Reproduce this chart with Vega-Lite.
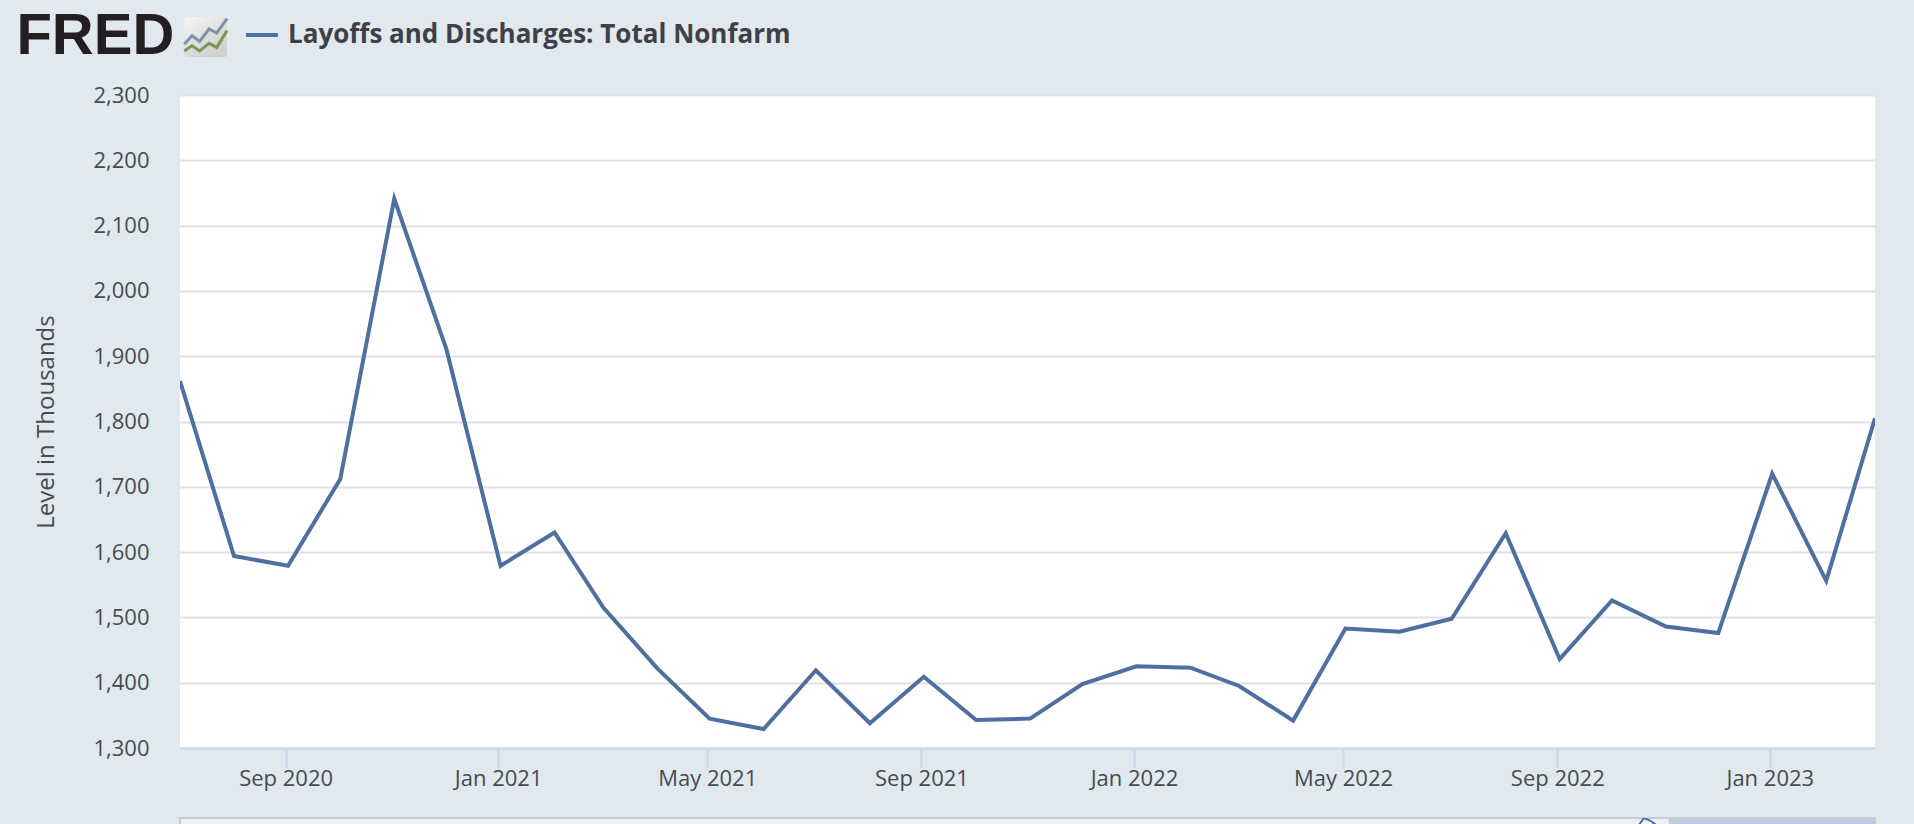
{
"$schema":"https://vega.github.io/schema/vega-lite/v6.json",
"background":"#e1e8ee",
"padding":{"left":16,"top":8,"right":41,"bottom":0},
"spacing":18,
"config":{"view":{"stroke":null},"font":"Open Sans"},
"datasets":{
"series":[
{"date":"2020-07-01","value":1862},{"date":"2020-08-01","value":1594},{"date":"2020-09-01","value":1579},{"date":"2020-10-01","value":1712},{"date":"2020-11-01","value":2141},{"date":"2020-12-01","value":1910},
{"date":"2021-01-01","value":1579},{"date":"2021-02-01","value":1630},{"date":"2021-03-01","value":1515},{"date":"2021-04-01","value":1422},{"date":"2021-05-01","value":1345},{"date":"2021-06-01","value":1329},{"date":"2021-07-01","value":1419},{"date":"2021-08-01","value":1338},{"date":"2021-09-01","value":1409},{"date":"2021-10-01","value":1343},{"date":"2021-11-01","value":1345},{"date":"2021-12-01","value":1398},
{"date":"2022-01-01","value":1425},{"date":"2022-02-01","value":1423},{"date":"2022-03-01","value":1395},{"date":"2022-04-01","value":1342},{"date":"2022-05-01","value":1483},{"date":"2022-06-01","value":1478},{"date":"2022-07-01","value":1498},{"date":"2022-08-01","value":1629},{"date":"2022-09-01","value":1436},{"date":"2022-10-01","value":1526},{"date":"2022-11-01","value":1486},{"date":"2022-12-01","value":1476},
{"date":"2023-01-01","value":1720},{"date":"2023-02-01","value":1556},{"date":"2023-03-01","value":1805}],
"icon":[
{"s":"a","x":0,"y":3.2},{"s":"a","x":0.9,"y":5.3},{"s":"a","x":1.8,"y":3.9},{"s":"a","x":2.9,"y":7},{"s":"a","x":3.8,"y":6},{"s":"a","x":5,"y":9.6},
{"s":"b","x":0,"y":1.5},{"s":"b","x":0.9,"y":2.8},{"s":"b","x":1.8,"y":1.5},{"s":"b","x":2.9,"y":3.4},{"s":"b","x":3.8,"y":2.4},{"s":"b","x":5,"y":6.6}],
"box":[{"x0":0,"x1":5,"y0":0,"y1":10}],
"nav":[{"date":"2020-02-01","value":1.0},{"date":"2020-03-01","value":13.0},{"date":"2020-04-01","value":9.0},{"date":"2020-05-01","value":2.0}],
"window":[{"start":"2020-07-01","end":"2023-03-01"}],
"legend":[{"series":"Layoffs and Discharges: Total Nonfarm","x":0,"y":0}]
},
"vconcat":[
{"width":47,"height":40,
"title":{"text":"FRED","orient":"left","angle":0,"anchor":"middle","align":"left","baseline":"middle","font":"Liberation Sans","fontWeight":"bold","fontSize":58,"color":"#231f20","offset":2},
"layer":[
{"data":{"name":"box"},"mark":{"type":"rect","cornerRadius":3,"color":{"x1":0,"y1":0,"x2":0.6,"y2":1,"gradient":"linear","stops":[{"offset":0,"color":"#f4f5f4"},{"offset":1,"color":"#cfd1cd"}]}},
"encoding":{"x":{"field":"x0","type":"quantitative","axis":null,"scale":{"domain":[-0.5,5]}},"x2":{"field":"x1"},
"y":{"field":"y0","type":"quantitative","axis":null,"scale":{"domain":[0,10]}},"y2":{"field":"y1"}}},
{"data":{"name":"icon"},"mark":{"type":"line","strokeWidth":3},
"encoding":{"x":{"field":"x","type":"quantitative"},
"y":{"field":"y","type":"quantitative"},
"detail":{"field":"s"},
"stroke":{"field":"s","type":"nominal","legend":null,"scale":{"domain":["a","b"],"range":["#7d93ad","#7c9456"]}}}},
{"data":{"name":"legend"},"mark":{"type":"line","strokeWidth":4},
"encoding":{"x":{"field":"x","type":"quantitative"},"y":{"field":"y","type":"quantitative"},
"color":{"field":"series","type":"nominal","scale":{"range":["#4e6f9f"]},
"legend":{"title":null,"orient":"right","offset":11,"symbolType":"stroke","symbolSize":1024,"symbolStrokeWidth":4,"labelFont":"Open Sans","labelFontWeight":700,"labelFontSize":26,"labelColor":"#3f4047","labelLimit":700,"labelOffset":8}}}}
],
"resolve":{"scale":{"color":"independent"}}
},
{"width":1695,"height":653,
"view":{"fill":"#ffffff"},
"data":{"name":"series"},
"mark":{"type":"line","color":"#4e6f9f","strokeWidth":4,"clip":true,"interpolate":"linear"},
"encoding":{
"x":{"field":"date","type":"temporal","scale":{"domain":["2020-07-01T00:00:00","2023-03-01T00:00:00"]},
"axis":{"values":["2020-09-01T00:00:00","2021-01-01T00:00:00","2021-05-01T00:00:00","2021-09-01T00:00:00","2022-01-01T00:00:00","2022-05-01T00:00:00","2022-09-01T00:00:00","2023-01-01T00:00:00"],"format":"%b %Y","title":" ","titleFontSize":4,"titlePadding":4.5,"labelFontSize":22,"labelColor":"#444c52","labelFont":"Open Sans","labelPadding":1.5,"tickOffset":-2.4,"tickColor":"#ccd6eb","tickSize":19,"tickWidth":2,"domainColor":"#ccd6eb","domainWidth":2,"grid":false}},
"y":{"field":"value","type":"quantitative","scale":{"domain":[1300,2300],"nice":false,"zero":false},
"axis":{"values":[1300,1400,1500,1600,1700,1800,1900,2000,2100,2200,2300],"format":",.0f","title":"Level in Thousands","titleFont":"Open Sans","titleFontSize":24,"titleFontWeight":"normal","titleColor":"#444c52","titlePadding":34,"labelFontSize":22,"labelColor":"#444c52","labelFont":"Open Sans","labelPadding":31,"ticks":false,"domain":false,"grid":true,"gridColor":"#dfe1e4","gridWidth":2}}
}},
{"width":1695,"height":9,
"view":{"fill":"#eef1f4","stroke":"#c9ccd0","strokeWidth":2},
"layer":[
{"data":{"name":"window"},"mark":{"type":"rect","color":"#bfcbe0","stroke":"#c9ccd0","strokeWidth":2},
"encoding":{"x":{"field":"start","type":"temporal","title":null,"axis":null,"scale":{"domain":["2001-03-01T00:00:00","2023-03-01T00:00:00"]}},"x2":{"field":"end"}}},
{"data":{"name":"nav"},"mark":{"type":"line","color":"#4e6f9f","strokeWidth":2,"clip":true},
"encoding":{"x":{"field":"date","type":"temporal"},"y":{"field":"value","type":"quantitative","axis":null,"scale":{"domain":[0,13],"nice":false}}}}
]
}
]
}
